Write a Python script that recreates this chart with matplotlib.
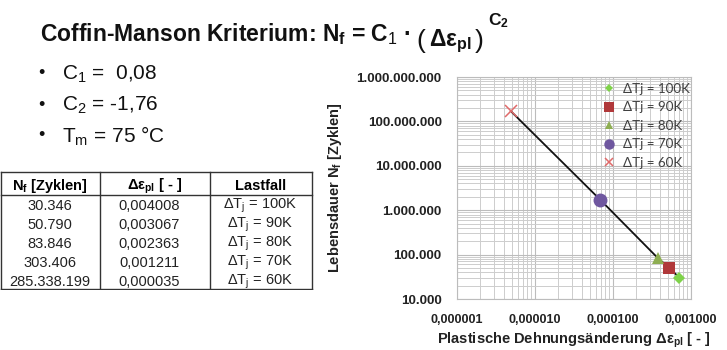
import matplotlib
matplotlib.use("Agg")
import matplotlib.pyplot as plt
from matplotlib.ticker import FixedLocator, FuncFormatter, LogLocator, NullFormatter

plt.rcParams["font.family"] = ["Liberation Sans", "DejaVu Sans"]
plt.rcParams["mathtext.fontset"] = "custom"
plt.rcParams["mathtext.rm"] = "Liberation Sans"
plt.rcParams["mathtext.it"] = "Liberation Sans:italic"
plt.rcParams["mathtext.bf"] = "Liberation Sans:bold"
plt.rcParams["mathtext.sf"] = "Liberation Sans"

# ---- data ----------------------------------------------------------------
load_cases = ["ΔTj = 100K", "ΔTj = 90K", "ΔTj = 80K", "ΔTj = 70K", "ΔTj = 60K"]
strain_plot = [7.1e-4, 5.2e-4, 3.75e-4, 6.9e-5, 4.9e-6]
cycles_plot = [30346, 50790, 83846, 1.7e6, 1.7e8]

table_cycles = ["30.346", "50.790", "83.846", "303.406", "285.338.199"]
table_strain = ["0,004008", "0,003067", "0,002363", "0,001211", "0,000035"]
table_case = [r"ΔT$_\mathrm{j}$ = 100K", r"ΔT$_\mathrm{j}$ = 90K", r"ΔT$_\mathrm{j}$ = 80K",
              r"ΔT$_\mathrm{j}$ = 70K", r"ΔT$_\mathrm{j}$ = 60K"]

x_ticks = [1e-6, 1e-5, 1e-4, 1e-3]
y_ticks = [1e4, 1e5, 1e6, 1e7, 1e8, 1e9]

marker_styles = ["D", "s", "^", "o", "x"]
marker_colors = ["#7fd24a", "#b0383a", "#8eae52", "#6f579f", "#e06a6a"]
marker_sizes = [6, 9, 8, 10, 8]

W, H = 727, 350
fig = plt.figure(figsize=(W / 100, H / 100), dpi=100)
fig.patch.set_facecolor("white")


def fx(px):
    return px / W


def fy(py):
    return 1 - py / H


# ---- title and constants -------------------------------------------------
ink = "#111111"
fig.text(fx(40), fy(41),
         r"Coffin-Manson Kriterium: $\mathbf{N_f}$ = C$_{\mathrm{1}}$ ·",
         fontsize=16.5, fontweight="bold", color=ink, va="baseline")
fig.text(fx(416), fy(41), "(", fontsize=19, color=ink, va="center")
fig.text(fx(429), fy(46), r"$\mathbf{\Delta\varepsilon_{pl}}$",
         fontsize=16.5, color=ink, va="baseline")
fig.text(fx(475), fy(41), ")", fontsize=19, color=ink, va="center")
fig.text(fx(488), fy(25), r"$\mathbf{C_2}$", fontsize=12.5, color=ink,
         va="baseline")

bullets = [r"C$_1$ =  0,08", r"C$_2$ = -1,76", r"T$_\mathrm{m}$ = 75 °C"]
for i, b in enumerate(bullets):
    yy = 74 + i * 31
    fig.text(fx(38), fy(yy), "•", fontsize=13, va="center", color=ink)
    fig.text(fx(62), fy(yy), b, fontsize=15, va="center", color=ink)

# ---- table ----------------------------------------------------------------
tab = fig.add_axes([0, fy(290), 314 / W, (290 - 170) / H])
tab.set_xlim(0, 314)
tab.set_ylim(290, 170)
tab.axis("off")
line_kw = dict(color="#333333", lw=1.0)
for xv in (1, 100, 210, 312):
    tab.plot([xv, xv], [172, 289], **line_kw)
for yv in (172, 195, 289):
    tab.plot([1, 312], [yv, yv], **line_kw)

hdr_y = 186
tab.text(50, hdr_y, r"N$_\mathbf{f}$ [Zyklen]", ha="center", va="center",
         fontsize=10.5, fontweight="bold")
tab.text(155, hdr_y, r"$\mathbf{\Delta\varepsilon_{pl}}$ [ - ]", ha="center",
         va="center", fontsize=10.5, fontweight="bold")
tab.text(261, hdr_y, "Lastfall", ha="center", va="center", fontsize=10.5,
         fontweight="bold")
for i in range(5):
    yy = 206 + i * 19
    tab.text(50, yy, table_cycles[i], ha="center", va="center", fontsize=10.5,
             color="#222222")
    tab.text(149, yy, table_strain[i], ha="center", va="center", fontsize=10.5,
             color="#222222")
    tab.text(260, yy, table_case[i], ha="center", va="center", fontsize=10.5,
             color="#222222")

# ---- chart ------------------------------------------------------------------
ax = fig.add_axes([fx(457), fy(299), (691 - 457) / W, (299 - 77) / H])
ax.set_xscale("log")
ax.set_yscale("log")
ax.set_xlim(1e-6, 1e-3)
ax.set_ylim(1e4, 1e9)

ax.plot(strain_plot, cycles_plot, color="#111111", lw=1.3, zorder=3)
for s, c, m, col, ms, lab in zip(strain_plot, cycles_plot, marker_styles,
                                  marker_colors, marker_sizes, load_cases):
    mew = 1.1 if m == "x" else 0
    ax.plot([s], [c], linestyle="none", marker=m, color=col, markersize=ms,
            markeredgewidth=mew, label=lab, zorder=4)

ax.xaxis.set_major_locator(FixedLocator(x_ticks))
ax.yaxis.set_major_locator(FixedLocator(y_ticks))
ax.xaxis.set_minor_locator(LogLocator(base=10, subs=range(2, 10), numticks=20))
ax.yaxis.set_minor_locator(LogLocator(base=10, subs=range(2, 10), numticks=20))
ax.xaxis.set_minor_formatter(NullFormatter())
ax.yaxis.set_minor_formatter(NullFormatter())
ax.xaxis.set_major_formatter(FuncFormatter(lambda v, p: f"{v:.6f}".replace(".", ",")))
ax.yaxis.set_major_formatter(FuncFormatter(lambda v, p: f"{v:,.0f}".replace(",", ".")))
ax.tick_params(which="both", length=0)
ax.tick_params(axis="y", pad=11, labelsize=9.7, labelcolor="#222222")
ax.tick_params(axis="x", pad=11, labelsize=9, labelcolor="#222222")
for lbl in ax.get_xticklabels() + ax.get_yticklabels():
    lbl.set_fontweight("bold")

ax.grid(which="major", color="#bcbcbc", lw=0.8)
ax.grid(which="minor", color="#cdcdcd", lw=0.7)
ax.set_axisbelow(True)
for sp in ax.spines.values():
    sp.set_color("#bcbcbc")
    sp.set_linewidth(0.8)

ax.set_ylabel(r"Lebensdauer $\mathbf{N_f}$ [Zyklen]", fontsize=10.5,
              fontweight="bold", color="#222222")
ax.yaxis.set_label_coords(-(457 - 344) / (691 - 457), 0.5)
ax.set_xlabel(r"Plastische Dehnungsänderung $\mathbf{\Delta\varepsilon_{pl}}$ [ - ]",
              fontsize=10.5, fontweight="bold", color="#222222")
ax.xaxis.set_label_coords(0.5, -(331 - 299) / (299 - 77))

leg = ax.legend(loc="upper left", bbox_to_anchor=(fx(602), fy(83)),
                bbox_transform=fig.transFigure, frameon=False, fontsize=9.6,
                handlelength=1.0, handletextpad=0.55, labelspacing=0.48,
                borderpad=0, borderaxespad=0, markerscale=0.75)
for t in leg.get_texts():
    t.set_fontfamily(["Lato", "DejaVu Sans"])
    t.set_color("#404040")

fig.savefig("out.png", dpi=100, facecolor="white")
